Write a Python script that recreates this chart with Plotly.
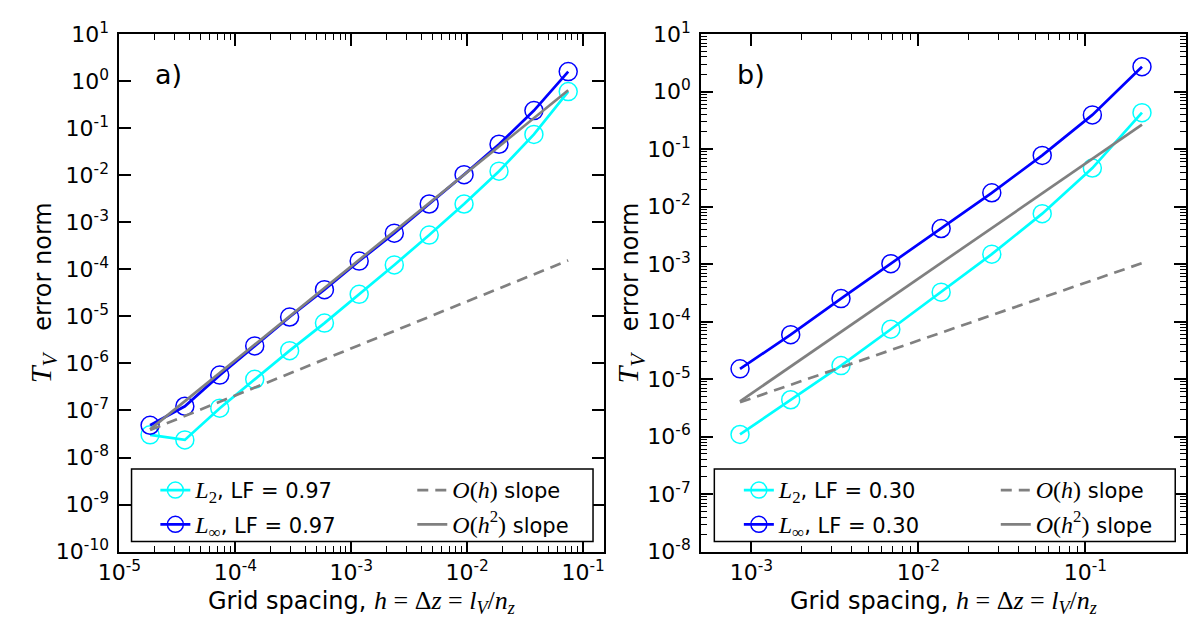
import plotly.graph_objects as go

W, H = 1188, 625

# ---------------- data ----------------
# panel a)  LF = 0.97
h_a = [1.84e-5, 3.67e-5, 7.34e-5, 1.47e-4, 2.94e-4, 5.87e-4, 1.17e-3,
       2.35e-3, 4.70e-3, 9.39e-3, 1.88e-2, 3.76e-2, 7.43e-2]
l2_a = [3.04e-8, 2.37e-8, 1.12e-7, 4.6e-7, 1.87e-6, 7.2e-6, 2.94e-5,
        1.24e-4, 5.36e-4, 2.45e-3, 1.22e-2, 7.38e-2, 0.601]
linf_a = [4.85e-8, 1.23e-7, 5.65e-7, 2.36e-6, 9.7e-6, 3.7e-5, 1.50e-4,
          5.87e-4, 2.45e-3, 1.03e-2, 4.56e-2, 0.237, 1.6]
slope_h_x_a = [1.84e-5, 7.43e-2]
slope_h_a = [3.84e-8, 1.55e-4]
slope_h2_x_a = [1.84e-5, 7.43e-2]
slope_h2_a = [3.96e-8, 0.64]

# panel b)  LF = 0.30
h_b = [8.55e-4, 1.72e-3, 3.44e-3, 6.84e-3, 1.368e-2, 2.75e-2, 5.51e-2,
       0.110, 0.218]
l2_b = [1.09e-6, 4.38e-6, 1.72e-5, 7.38e-5, 3.25e-4, 1.49e-3, 7.55e-3,
        4.69e-2, 0.431]
linf_b = [1.51e-5, 5.94e-5, 2.52e-4, 1.02e-3, 4.16e-3, 1.74e-2, 7.78e-2,
          0.394, 2.71]
slope_h_x_b = [8.55e-4, 0.218]
slope_h_b = [3.95e-6, 1.04e-3]
slope_h2_x_b = [8.55e-4, 0.218]
slope_h2_b = [4.1e-6, 0.266]

lf_a = "0.97"
lf_b = "0.30"
panel_labels = ["a)", "b)"]

# ---------------- styling ----------------
CYAN = "#00ffff"
BLUE = "#0000ff"
GRAY = "#808080"
FONT = "DejaVu Sans"
MATH = "Liberation Serif"


def m(s, size=None):
    st = f"font-family:'{MATH}'"
    if size:
        st += f";font-size:{size}px"
    return f"<span style=\"{st}\">{s}</span>"


def px(x):
    return x / W


def py(y):
    return 1 - y / H


XA = [px(99.3), px(593.3)]
XB = [px(692.5), px(1187.0)]
YD = [py(561.7), py(19.0)]

fig = go.Figure()


def add_panel(xref, yref, h, l2, linf, sx1, s1, sx2, s2, lf, leg1, leg2):
    fig.add_trace(go.Scatter(
        x=h, y=l2, mode="lines+markers", xaxis=xref, yaxis=yref,
        line=dict(color=CYAN, width=2.7),
        marker=dict(symbol="circle-open", size=18, color=CYAN,
                    line=dict(width=1.5, color=CYAN)),
        name=m("<i>L</i><sub>2</sub>", 24) + f", LF = {lf}",
        legend=leg1, legendgroup=leg1 + "a"))
    fig.add_trace(go.Scatter(
        x=h, y=linf, mode="lines+markers", xaxis=xref, yaxis=yref,
        line=dict(color=BLUE, width=2.7),
        marker=dict(symbol="circle-open", size=18, color=BLUE,
                    line=dict(width=1.5, color=BLUE)),
        name=m("<i>L</i><sub>∞</sub>", 24) + f", LF = {lf}",
        legend=leg1, legendgroup=leg1 + "b"))
    fig.add_trace(go.Scatter(
        x=sx1, y=s1, mode="lines", xaxis=xref, yaxis=yref,
        line=dict(color=GRAY, width=2.7, dash="11px,7px"),
        name=m("<i>O</i>(<i>h</i>)", 24) + " slope",
        legend=leg2, legendgroup=leg2 + "a"))
    fig.add_trace(go.Scatter(
        x=sx2, y=s2, mode="lines", xaxis=xref, yaxis=yref,
        line=dict(color=GRAY, width=2.7),
        name=m("<i>O</i>(<i>h</i><sup>2</sup>)", 24) + " slope",
        legend=leg2, legendgroup=leg2 + "b"))


add_panel("x", "y", h_a, l2_a, linf_a, slope_h_x_a, slope_h_a,
          slope_h2_x_a, slope_h2_a, lf_a, "legend", "legend2")
add_panel("x2", "y2", h_b, l2_b, linf_b, slope_h_x_b, slope_h_b,
          slope_h2_x_b, slope_h2_b, lf_b, "legend3", "legend4")


def dec_ticks(lo, hi):
    vals = [10.0 ** e for e in range(lo, hi + 1)]
    txt = [f"10<sup>{e}</sup>" for e in range(lo, hi + 1)]
    return vals, txt


def minor_ticks(lo, hi):
    out = []
    for e in range(lo, hi):
        for d in range(2, 10):
            out.append(d * 10.0 ** e)
    return out


def axis(domain, rng, lo, hi, anchor, minor=True):
    vals, txt = dec_ticks(lo, hi)
    d = dict(type="log", domain=domain, range=rng, anchor=anchor,
             showline=True, linecolor="black", linewidth=2, mirror="allticks",
             ticks="inside", ticklen=12, tickwidth=1.5, tickcolor="black",
             tickmode="array", tickvals=vals, ticktext=txt,
             showgrid=False, zeroline=False,
             tickfont=dict(family=FONT, size=22, color="black"))
    if minor:
        d["minor"] = dict(tickmode="array", tickvals=minor_ticks(lo, hi),
                          ticks="inside", ticklen=6, tickwidth=1.2,
                          tickcolor="black", showgrid=False)
    return d


fig.update_layout(
    width=W, height=H,
    margin=dict(l=0, r=0, t=0, b=0),
    paper_bgcolor="white", plot_bgcolor="white",
    font=dict(family=FONT, color="black"),
    xaxis=axis(XA, [-5, -0.822], -5, -1, "y"),
    yaxis=axis(YD, [-10, 1], -10, 1, "x", minor=False),
    xaxis2=axis(XB, [-3.301, -0.398], -3, -1, "y2"),
    yaxis2=axis(YD, [-8, 1], -8, 1, "x2"),
)
fig.update_xaxes(ticklabelstandoff=0)
fig.update_yaxes(ticklabelstandoff=4)

leg_common = dict(xanchor="left", yanchor="top", bgcolor="rgba(0,0,0,0)",
                  borderwidth=0, font=dict(family=FONT, size=21, color="black"),
                  tracegroupgap=4, itemwidth=30)
fig.update_layout(
    legend=dict(x=px(136), y=py(476), **leg_common),
    legend2=dict(x=px(398), y=py(476), **leg_common),
    legend3=dict(x=px(731), y=py(476), **leg_common),
    legend4=dict(x=px(993), y=py(476), **leg_common),
)

# legend frames
for x0, x1 in [(111.7, 582.3), (706.0, 1176.0)]:
    fig.add_shape(type="rect", xref="paper", yref="paper",
                  x0=px(x0), x1=px(x1), y0=py(551), y1=py(475),
                  line=dict(color="black", width=1.5), fillcolor="white",
                  layer="above")

# panel labels
for lab, x in zip(panel_labels, [134, 727]):
    fig.add_annotation(text=lab, x=px(x), y=py(61), xref="paper",
                       yref="paper", xanchor="left", yanchor="middle",
                       showarrow=False, font=dict(family=FONT, size=27))

# axis titles
xtitle = ("Grid spacing, " + m("<i>h</i> = Δ<i>z</i> = <i>l</i><sub><i>V</i></sub>"
                                "/<i>n</i><sub><i>z</i></sub>", 26))
ytitle = m("<i>T</i><sub><i>V</i></sub>", 30) + "   error norm"
for xc in [(XA[0] + XA[1]) / 2, (XB[0] + XB[1]) / 2]:
    fig.add_annotation(text=xtitle, x=xc, y=py(614), xref="paper",
                       yref="paper", xanchor="center", yanchor="middle",
                       showarrow=False, font=dict(family=FONT, size=24))
for xc in [px(21), px(620)]:
    fig.add_annotation(text=ytitle, x=xc, y=py(290), xref="paper",
                       yref="paper", xanchor="center", yanchor="middle",
                       textangle=-90, showarrow=False,
                       font=dict(family=FONT, size=24))

fig.write_html("out.html")
